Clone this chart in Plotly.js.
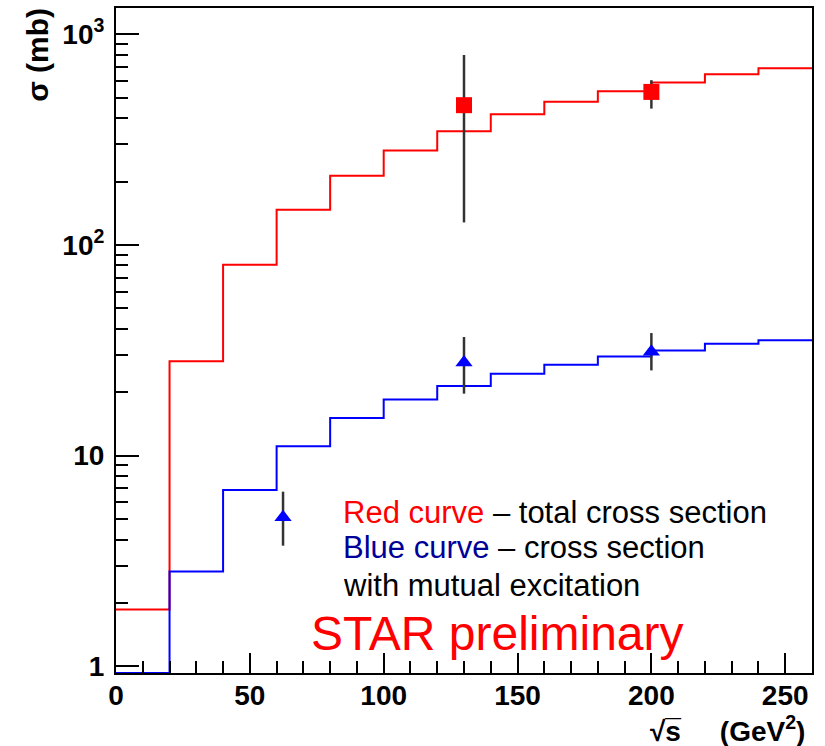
<!DOCTYPE html>
<html>
<head>
<meta charset="utf-8">
<script src="https://cdn.plot.ly/plotly-3.0.1.min.js"></script>
<style>html,body{margin:0;padding:0;background:#fff;}#chart{width:825px;height:746px;}</style>
</head>
<body>
<div id="chart"></div>
<script>
// bin edges of the calculated curves (sqrt(s), GeV)
const binEdges = [0, 20, 40, 60, 80, 100, 120, 140, 160, 180, 200, 220, 240, 260];
// red curve: total cross section (mb), one value per bin
const redTotal = [1.86, 28.1, 80.7, 147, 213, 281, 347, 417, 478, 537, 590, 647, 691];
// blue curve: cross section with mutual excitation (mb)
const blueMutual = [0.93, 2.82, 6.87, 11.1, 15.1, 18.5, 21.4, 24.5, 27.0, 29.6, 31.6, 34.0, 35.3];

// measured points (STAR preliminary)
const redX = [130, 200];
const redY = [461, 533];
const redUpper = [798, 606];
const redLower = [128, 444];

const blueX = [62.4, 130, 200];
const blueY = [5.1, 27.7, 31.1];
const blueUpper = [6.75, 36.6, 38.2];
const blueLower = [3.74, 19.7, 25.4];

const xTickVals = [0, 50, 100, 150, 200, 250];
const yTickVals = [1, 10, 100, 1000];
const yTickText = ['1', '10', '10<sup>2</sup>', '10<sup>3</sup>'];

function stepY(vals) { return vals.concat([vals[vals.length - 1]]); }

const traces = [
  {
    x: binEdges, y: stepY(redTotal), type: 'scatter', mode: 'lines',
    line: {shape: 'hv', color: '#ff0000', width: 2}, hoverinfo: 'skip'
  },
  {
    x: binEdges, y: stepY(blueMutual), type: 'scatter', mode: 'lines',
    line: {shape: 'hv', color: '#0000ff', width: 2}, hoverinfo: 'skip'
  },
  {
    x: redX, y: redY, type: 'scatter', mode: 'markers',
    marker: {symbol: 'square', size: 16, color: '#ff0000'},
    error_y: {type: 'data', symmetric: false,
      array: redUpper.map((u, i) => u - redY[i]),
      arrayminus: redLower.map((l, i) => redY[i] - l),
      color: '#333333', thickness: 2.5, width: 0}
  },
  {
    x: blueX, y: blueY, type: 'scatter', mode: 'markers',
    marker: {symbol: 'triangle-up', size: 15, color: '#0000ff'},
    error_y: {type: 'data', symmetric: false,
      array: blueUpper.map((u, i) => u - blueY[i]),
      arrayminus: blueLower.map((l, i) => blueY[i] - l),
      color: '#333333', thickness: 2.5, width: 0}
  }
];

const tickFont = {family: 'Liberation Sans, Arial, sans-serif', size: 28, color: '#000', weight: 'bold'};
const txtFont = {family: 'Liberation Sans, Arial, sans-serif', size: 31, color: '#000'};
const nb = '\u00a0';

const layout = {
  width: 825, height: 746,
  margin: {l: 116, r: 13, t: 8, b: 73, pad: 0},
  paper_bgcolor: '#fff', plot_bgcolor: '#fff',
  showlegend: false,
  xaxis: {
    range: [0, 260], tickvals: xTickVals, ticks: 'inside', ticklen: 20, tickwidth: 2,
    tickcolor: '#000', showline: true, linewidth: 2, linecolor: '#000', mirror: true,
    showgrid: false, zeroline: false, tickfont: tickFont, ticklabelstandoff: -4,
    minor: {dtick: 10, ticks: 'inside', ticklen: 12, tickwidth: 2, tickcolor: '#000', showgrid: false}
  },
  yaxis: {
    type: 'log', range: [Math.log10(0.93), 3.125], tickvals: yTickVals, ticktext: yTickText,
    ticks: 'inside', ticklen: 23, tickwidth: 2, tickcolor: '#000',
    showline: true, linewidth: 2, linecolor: '#000', mirror: true,
    showgrid: false, zeroline: false, tickfont: tickFont, ticklabelstandoff: 4,
    minor: {dtick: 'D1', ticks: 'inside', ticklen: 12, tickwidth: 2, tickcolor: '#000', showgrid: false}
  },
  annotations: [
    {xref: 'paper', yref: 'paper', x: -0.1126, y: 0.929, xanchor: 'center', yanchor: 'middle',
     textangle: -90, showarrow: false, text: 'σ (mb)',
     font: {family: 'Liberation Sans, Arial, sans-serif', size: 30, color: '#000', weight: 'bold'}},
    {xref: 'paper', yref: 'paper', x: 0.9925, y: -0.084, xanchor: 'right', yanchor: 'middle',
     showarrow: false, text: '√s̅' + nb.repeat(5) + '(GeV<sup>2</sup>)',
     font: {family: 'Liberation Sans, Arial, sans-serif', size: 28, color: '#000', weight: 'bold'}},
    {xref: 'paper', yref: 'paper', x: (341 - 116) / 695, y: (673 - 512) / 665, xanchor: 'left', yanchor: 'middle',
     showarrow: false, text: '<span style="color:#ff0000">Red curve</span> – total cross section', font: txtFont},
    {xref: 'paper', yref: 'paper', x: (341 - 116) / 695, y: (673 - 547) / 665, xanchor: 'left', yanchor: 'middle',
     showarrow: false, text: '<span style="color:#000099">Blue curve</span> – cross section', font: txtFont},
    {xref: 'paper', yref: 'paper', x: (341 - 116) / 695, y: (673 - 585) / 665, xanchor: 'left', yanchor: 'middle',
     showarrow: false, text: 'with mutual excitation', font: txtFont},
    {xref: 'paper', yref: 'paper', x: (309 - 116) / 695, y: (673 - 633) / 665, xanchor: 'left', yanchor: 'middle',
     showarrow: false, text: 'STAR preliminary',
     font: {family: 'Liberation Sans, Arial, sans-serif', size: 48, color: '#ff0000'}}
  ]
};

Plotly.newPlot('chart', traces, layout, {staticPlot: true, displayModeBar: false});
</script>
</body>
</html>
